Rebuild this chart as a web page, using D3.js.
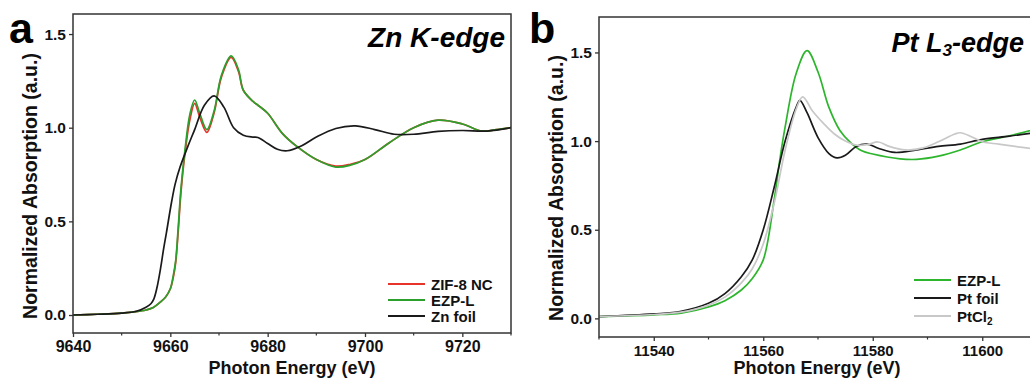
<!DOCTYPE html>
<html>
<head>
<meta charset="utf-8">
<script src="https://cdn.jsdelivr.net/npm/d3@7"></script>
<style>
  html, body { margin: 0; padding: 0; background: #fff; overflow: hidden; }
  svg { display: block; }
  text { font-family: Arial, "Liberation Sans", sans-serif; }
</style>
</head>
<body>
<svg id="chart" width="1030" height="381"></svg>
<script>
// ---- Zn K-edge XANES (panel a) ----
const znEnergy  = [9640, 9645, 9650, 9653, 9655, 9656.5, 9658, 9659, 9660, 9660.6, 9661.1, 9661.6, 9662.2, 9663, 9664, 9665, 9666, 9667.5, 9669, 9670.5, 9672.5, 9674, 9675, 9677, 9678, 9680, 9683, 9686, 9690, 9694, 9697, 9700, 9705, 9710, 9715, 9720, 9724, 9727, 9730];
const zif8NC    = [0.0, 0.004, 0.01, 0.018, 0.027, 0.04, 0.07, 0.095, 0.14, 0.2, 0.28, 0.44, 0.66, 0.86, 1.04, 1.13, 1.06, 0.975, 1.08, 1.27, 1.375, 1.30, 1.20, 1.14, 1.12, 1.077, 0.97, 0.9, 0.83, 0.795, 0.805, 0.83, 0.92, 1.0, 1.04, 1.02, 0.982, 0.99, 1.0];
const ezpLZn    = [0.0, 0.004, 0.01, 0.018, 0.027, 0.04, 0.07, 0.095, 0.14, 0.21, 0.29, 0.46, 0.68, 0.88, 1.07, 1.148, 1.08, 0.99, 1.09, 1.28, 1.383, 1.31, 1.20, 1.14, 1.12, 1.077, 0.97, 0.9, 0.83, 0.79, 0.80, 0.83, 0.92, 1.0, 1.04, 1.02, 0.982, 0.99, 1.0];
const znFoilE   = [9640, 9645, 9650, 9653, 9655, 9656, 9656.6, 9657.2, 9658, 9658.6, 9659.2, 9660.3, 9661, 9662, 9663.6, 9665, 9667, 9669, 9671, 9673, 9675, 9677, 9678, 9680, 9682, 9684, 9687, 9690, 9694, 9698, 9702, 9706, 9710, 9715, 9720, 9725, 9730];
const znFoil    = [0.0, 0.004, 0.01, 0.02, 0.042, 0.06, 0.085, 0.14, 0.25, 0.35, 0.44, 0.61, 0.7, 0.79, 0.9, 0.99, 1.12, 1.17, 1.11, 1.0, 0.96, 0.95, 0.948, 0.916, 0.885, 0.877, 0.904, 0.95, 0.996, 1.01, 0.99, 0.965, 0.965, 0.98, 0.985, 0.982, 1.0];

// ---- Pt L3-edge XANES (panel b) ----
const ptEnergyL = [11530, 11540, 11545, 11550, 11553, 11556, 11558, 11560, 11562, 11563, 11564, 11566, 11568, 11570, 11572, 11574, 11576, 11578, 11580, 11585, 11588, 11592, 11596, 11600, 11605, 11610];
const ezpLPt    = [0.01, 0.02, 0.03, 0.065, 0.1, 0.16, 0.225, 0.33, 0.67, 0.89, 1.08, 1.38, 1.51, 1.39, 1.19, 1.06, 0.99, 0.945, 0.927, 0.9, 0.897, 0.915, 0.95, 0.996, 1.03, 1.07];
const ptFoilE   = [11530, 11540, 11545, 11550, 11553, 11556, 11558, 11560, 11562, 11564, 11566, 11566.7, 11568, 11570, 11572, 11573.5, 11575, 11577, 11579, 11581, 11584, 11588, 11592, 11596, 11600, 11605, 11610];
const ptFoil    = [0.01, 0.025, 0.04, 0.085, 0.14, 0.235, 0.33, 0.5, 0.74, 1.0, 1.19, 1.23, 1.16, 1.02, 0.93, 0.905, 0.92, 0.97, 0.983, 0.96, 0.936, 0.95, 0.97, 0.983, 1.01, 1.028, 1.05];
const ptCl2E    = [11530, 11540, 11545, 11550, 11553, 11556, 11558, 11560, 11562, 11564, 11566, 11567.2, 11569, 11571, 11573, 11575, 11577, 11579, 11581, 11583, 11586, 11589, 11592, 11595, 11596, 11598, 11600, 11603, 11606, 11610];
const ptCl2     = [0.01, 0.022, 0.035, 0.075, 0.12, 0.2, 0.28, 0.42, 0.65, 0.95, 1.18, 1.25, 1.17, 1.1, 1.04, 1.0, 0.977, 0.98, 0.995, 0.97, 0.95, 0.96, 0.996, 1.04, 1.047, 1.025, 0.996, 0.983, 0.97, 0.953];

// axis ticks
const znTicksX = [9640, 9660, 9680, 9700, 9720];
const znMinorX = [9650, 9670, 9690, 9710, 9730];
const ptTicksX = [11540, 11560, 11580, 11600];
const ptMinorX = [11530, 11550, 11570, 11590, 11610];
const ticksY   = [0.0, 0.5, 1.0, 1.5];

const svg = d3.select("#chart");

function drawPanel(cfg) {
  const x = d3.scaleLinear().domain(cfg.xDomain).range([cfg.left, cfg.right]);
  const y = d3.scaleLinear().domain(cfg.yDomain).range([cfg.bottom, cfg.top]);
  const g = svg.append("g");

  const clipId = "clip-" + cfg.id;
  svg.append("clipPath").attr("id", clipId)
    .append("rect").attr("x", cfg.left).attr("y", cfg.top)
    .attr("width", cfg.right - cfg.left).attr("height", cfg.bottom - cfg.top);

  const line = d3.line()
    .x(d => x(d[0])).y(d => y(d[1]))
    .curve(d3.curveCatmullRom.alpha(0.5));

  const plot = g.append("g").attr("clip-path", `url(#${clipId})`);
  cfg.series.forEach(s => {
    plot.append("path")
      .datum(s.x.map((e, i) => [e, s.y[i]]))
      .attr("fill", "none")
      .attr("stroke", s.color)
      .attr("stroke-width", s.width || 1.7)
      .attr("stroke-linejoin", "round")
      .attr("d", line);
  });

  // frame
  g.append("rect")
    .attr("x", cfg.left).attr("y", cfg.top)
    .attr("width", cfg.right - cfg.left).attr("height", cfg.bottom - cfg.top)
    .attr("fill", "none").attr("stroke", "#333").attr("stroke-width", 1.5);

  // bottom axis
  const xAxis = d3.axisBottom(x).tickValues(cfg.ticksX).tickFormat(d3.format("d"))
    .tickSize(4).tickPadding(4);
  const gx = g.append("g").attr("transform", `translate(0,${cfg.bottom})`).call(xAxis);
  gx.select(".domain").remove();
  gx.selectAll(".tick line").attr("stroke", "#333").attr("stroke-width", 1.3);
  gx.selectAll(".tick text").attr("fill", "#111")
    .style("font-size", cfg.tickFont + "px").style("font-weight", "bold");
  g.append("g").selectAll("line").data(cfg.minorX).join("line")
    .attr("x1", d => x(d)).attr("x2", d => x(d))
    .attr("y1", cfg.bottom).attr("y2", cfg.bottom + 2.5)
    .attr("stroke", "#333").attr("stroke-width", 1.2);

  // left axis
  const yAxis = d3.axisLeft(y).tickValues(ticksY).tickFormat(d3.format(".1f"))
    .tickSize(4).tickPadding(3);
  const gy = g.append("g").attr("transform", `translate(${cfg.left},0)`).call(yAxis);
  gy.select(".domain").remove();
  gy.selectAll(".tick line").attr("stroke", "#333").attr("stroke-width", 1.3);
  gy.selectAll(".tick text").attr("fill", "#111")
    .style("font-size", "15.5px").style("font-weight", "bold");

  // axis titles
  g.append("text")
    .attr("x", cfg.xTitleX)
    .attr("y", 374)
    .attr("text-anchor", "middle")
    .style("font-size", "18px").style("font-weight", "bold").attr("fill", "#111")
    .text("Photon Energy (eV)");
  g.append("text")
    .attr("transform", `translate(${cfg.yTitleX},${cfg.yTitleY}) rotate(-90)`)
    .attr("text-anchor", "middle")
    .style("font-size", "19.5px").style("font-weight", "bold").attr("fill", "#111")
    .text("Normalized Absorption (a.u.)");

  // panel letter
  g.append("text")
    .attr("x", cfg.letterX).attr("y", 43)
    .style("font-size", "43px").style("font-weight", "bold").attr("fill", "#000")
    .text(cfg.letter);

  // edge label
  const t = g.append("text")
    .attr("x", cfg.edgeX).attr("y", cfg.edgeY)
    .attr("text-anchor", "end")
    .style("font-size", cfg.edgeFont + "px").style("font-weight", "bold").style("font-style", "italic")
    .attr("fill", "#000");
  cfg.edgeParts.forEach(p => {
    const ts = t.append("tspan").text(p.t);
    if (p.sub) ts.attr("baseline-shift", "-25%").style("font-size", "17px");
  });

  // legend
  const lg = g.append("g");
  cfg.series.forEach((s, i) => {
    const ly = cfg.legendY + i * cfg.legendGap;
    lg.append("line")
      .attr("x1", cfg.legendX).attr("x2", cfg.legendX + 37)
      .attr("y1", ly).attr("y2", ly)
      .attr("stroke", s.color).attr("stroke-width", 2);
    const tx = lg.append("text")
      .attr("x", cfg.legendX + 43).attr("y", ly + 5.5)
      .style("font-size", "15px").style("font-weight", "bold").attr("fill", "#111");
    s.label.forEach(p => {
      const ts = tx.append("tspan").text(p.t);
      if (p.sub) ts.attr("baseline-shift", "-30%").style("font-size", "10px");
    });
  });
}

drawPanel({
  id: "a", letter: "a", letterX: 9,
  left: 73, right: 511, top: 14, bottom: 333,
  xDomain: [9640, 9730], yDomain: [-0.096, 1.607],
  ticksX: znTicksX, minorX: znMinorX, tickFont: 16,
  xTitleX: 292, yTitleX: 37, yTitleY: 186,
  edgeX: 505, edgeY: 47, edgeFont: 28,
  edgeParts: [{t: "Zn K-edge"}],
  legendX: 388, legendY: 284, legendGap: 16,
  series: [
    {x: znEnergy, y: zif8NC, color: "#e8332b", label: [{t: "ZIF-8 NC"}]},
    {x: znEnergy, y: ezpLZn, color: "#2ca02c", label: [{t: "EZP-L"}]},
    {x: znFoilE, y: znFoil, color: "#1a1a1a", label: [{t: "Zn foil"}]}
  ]
});

drawPanel({
  id: "b", letter: "b", letterX: 529,
  left: 599, right: 1037, top: 17, bottom: 337,
  xDomain: [11530, 11610], yDomain: [-0.105, 1.7],
  ticksX: ptTicksX, minorX: ptMinorX, tickFont: 15,
  xTitleX: 817, yTitleX: 563, yTitleY: 188,
  edgeX: 1024, edgeY: 52, edgeFont: 27,
  edgeParts: [{t: "Pt L"}, {t: "3", sub: true}, {t: "-edge"}],
  legendX: 914, legendY: 280, legendGap: 18,
  series: [
    {x: ptEnergyL, y: ezpLPt, color: "#2db52d", label: [{t: "EZP-L"}]},
    {x: ptFoilE, y: ptFoil, color: "#1a1a1a", label: [{t: "Pt foil"}]},
    {x: ptCl2E, y: ptCl2, color: "#c8c8c8", label: [{t: "PtCl"}, {t: "2", sub: true}]}
  ]
});
</script>
</body>
</html>
